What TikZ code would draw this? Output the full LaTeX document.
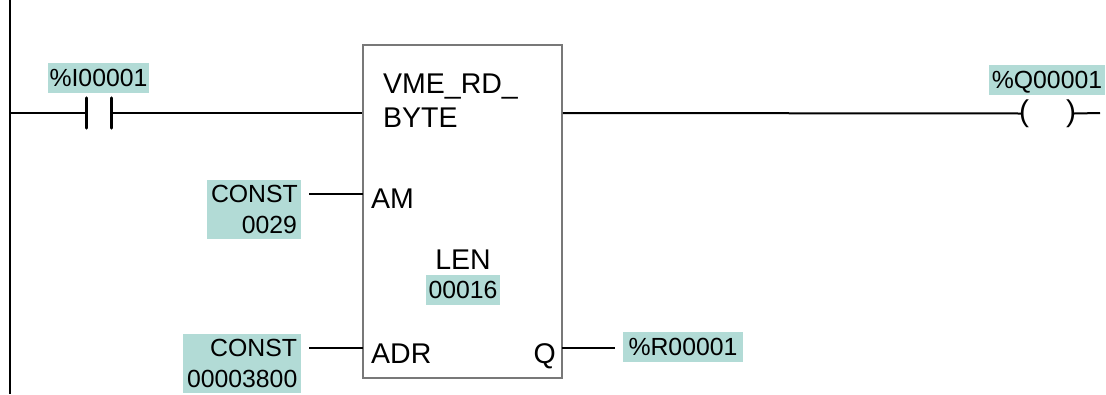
\documentclass[tikz,border=0pt]{standalone}
\usepackage{fontspec}
\setmainfont{Liberation Sans}
\definecolor{hl}{RGB}{178,219,214}
\definecolor{boxgray}{RGB}{120,120,120}
\begin{document}
\begin{tikzpicture}[x=1pt,y=-1pt,
  wire/.style={line width=2pt,black},
  lbl/.style={fill=hl,inner sep=0pt,font=\fontsize{24.8}{31}\selectfont,text height=17.8pt,text depth=0pt,align=center},
  lbltwo/.style={fill=hl,inner xsep=4pt,inner ysep=0pt,font=\fontsize{24.8}{31}\selectfont,align=right},
  boxtxt/.style={inner sep=0pt,font=\fontsize{28.5}{34}\selectfont},
  fblock/.style={draw=boxgray,line width=1.5pt,minimum width=199pt,minimum height=333pt,inner sep=0pt},
  contactbox/.style={minimum width=24pt,minimum height=30pt,inner sep=0pt},
  bar/.style={line width=3pt,line cap=round}]
\useasboundingbox (0,0) rectangle (1106,394);
% left rail
\coordinate (railtop) at (10,0);
\coordinate (railbot) at (10,394);
\draw[line width=1.5pt] (railtop) -- (railbot);
\coordinate (rung) at (10,113);
% contact
\node[contactbox] (c1) at (99,113) {};
\draw[bar] (c1.north west) -- (c1.south west);
\draw[bar] (c1.north east) -- (c1.south east);
\node[lbl,minimum width=101pt,minimum height=30pt] (i1) at (98.5,78) {\%I00001};
% function block
\node[fblock] (fb) at (462.5,211.5) {};
\node[boxtxt,anchor=base west] (fbn1) at (383,93) {VME\_RD\_};
\node[boxtxt,anchor=base west] (fbn2) at (383,127) {BYTE};
\node[boxtxt,anchor=base west] (am) at (371,208) {AM};
\node[boxtxt,anchor=base west] (adr) at (371,363) {ADR};
\node[boxtxt,anchor=base east] (qout) at (556,363) {Q};
\node[boxtxt,anchor=base] (len) at (463,269) {LEN};
\node[lbl,minimum width=74pt,minimum height=30pt] (lenv) at (463,290) {00016};
% coil
\node[inner sep=0pt,font=\fontsize{30}{34}\selectfont] (coil) at (1047.5,113.5) {(\hspace{37pt})};
\node[lbl,minimum width=116pt,minimum height=30pt] (q1) at (1047,79.5) {\%Q00001};
\coordinate (rend) at (1100,113);
% inputs
\node[lbltwo,minimum width=94pt,minimum height=59pt,text width=86pt] (const1) at (254,209.5) {CONST\\0029};
\node[lbltwo,minimum width=118pt,minimum height=59pt,text width=110pt] (const2) at (242,363.5) {CONST\\00003800};
\node[lbl,minimum width=120pt,minimum height=30pt] (r1) at (683,347) {\%R00001};
\coordinate (pAM) at (363,194);
\coordinate (pADR) at (363,348);
\coordinate (pQ) at (562,348);
% wires
\draw[wire] (rung) -- (c1.west);
\draw[wire] (c1.east) -- (fb.west |- rung);
\draw[wire] (fb.east |- rung) -- ([xshift=2pt]coil.west);
\draw[wire] ([xshift=-2pt]coil.east) -- (rend);
\draw[wire] ([xshift=8pt]const1.east |- pAM) -- (pAM);
\draw[wire] ([xshift=8pt]const2.east |- pADR) -- (pADR);
\draw[wire] (pQ) -- ([xshift=-8pt]r1.west |- pQ);
\end{tikzpicture}
\end{document}
